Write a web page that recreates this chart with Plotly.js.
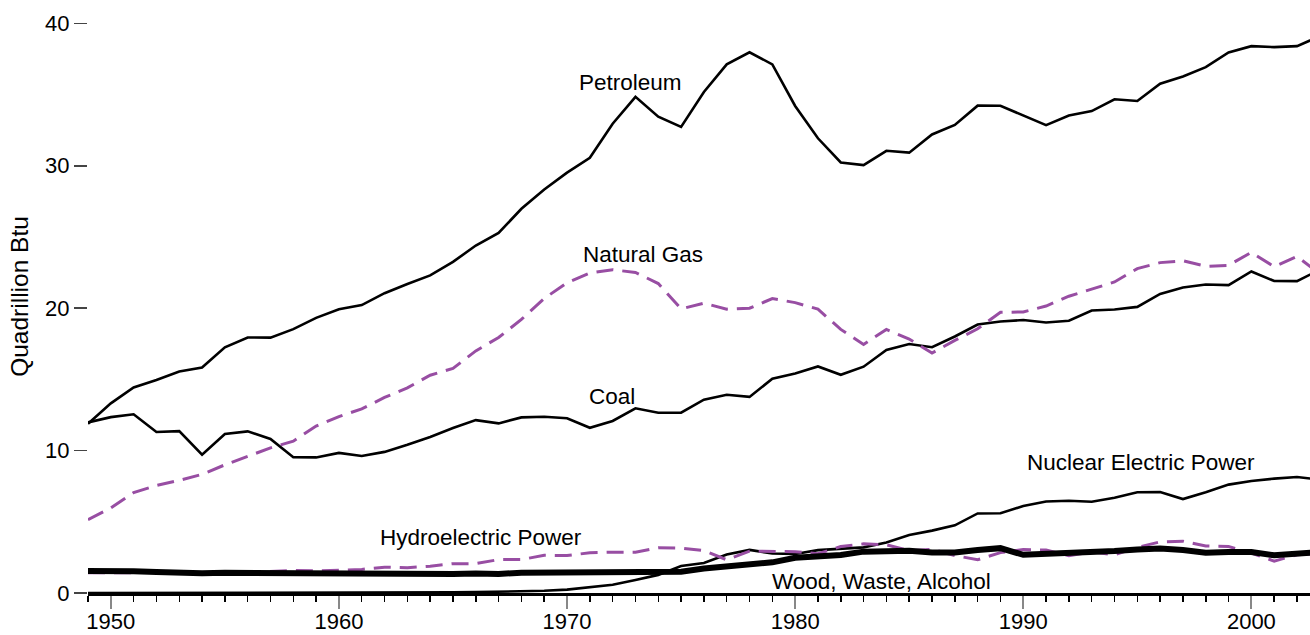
<!DOCTYPE html>
<html>
<head>
<meta charset="utf-8">
<script src="https://cdn.plot.ly/plotly-3.0.1.min.js"></script>
<style>
  html, body { margin: 0; padding: 0; background: #fff; }
  #chart { width: 1310px; height: 635px; }
</style>
</head>
<body>
<div id="chart"></div>
<script>
// Years 1949-2003
const years = [1949,1950,1951,1952,1953,1954,1955,1956,1957,1958,
  1959,1960,1961,1962,1963,1964,1965,1966,1967,1968,
  1969,1970,1971,1972,1973,1974,1975,1976,1977,1978,
  1979,1980,1981,1982,1983,1984,1985,1986,1987,1988,
  1989,1990,1991,1992,1993,1994,1995,1996,1997,1998,
  1999,2000,2001,2002,2003];

// Quadrillion Btu
const petroleum = [11.88,13.32,14.43,14.96,15.56,15.84,17.25,17.94,17.93,18.53,
  19.32,19.92,20.22,21.05,21.70,22.30,23.25,24.40,25.28,26.98,
  28.34,29.52,30.56,32.95,34.84,33.45,32.73,35.18,37.12,37.97,
  37.12,34.20,31.93,30.23,30.05,31.05,30.92,32.20,32.87,34.22,
  34.21,33.55,32.85,33.53,33.84,34.67,34.55,35.76,36.27,36.93,
  37.96,38.40,38.33,38.40,39.10];

const naturalGas = [5.15,5.97,7.05,7.55,7.91,8.33,9.00,9.61,10.19,10.66,
  11.72,12.39,12.93,13.73,14.40,15.29,15.77,17.00,17.94,19.21,
  20.68,21.79,22.47,22.70,22.51,21.73,19.95,20.35,19.93,20.00,
  20.67,20.39,19.93,18.51,17.45,18.51,17.83,16.85,17.74,18.55,
  19.71,19.73,20.15,20.84,21.35,21.84,22.78,23.20,23.33,22.94,
  23.01,23.92,22.91,23.63,22.40];

const coal = [11.98,12.35,12.55,11.31,11.37,9.71,11.17,11.35,10.82,9.53,
  9.52,9.84,9.62,9.91,10.41,10.96,11.58,12.14,11.91,12.33,
  12.38,12.27,11.60,12.08,12.97,12.66,12.66,13.58,13.92,13.77,
  15.04,15.42,15.91,15.32,15.89,17.07,17.48,17.26,18.01,18.85,
  19.07,19.17,18.99,19.12,19.84,19.91,20.09,21.00,21.45,21.66,
  21.62,22.58,21.91,21.90,22.70];

const nuclear = [0,0,0,0,0,0,0,0,0,0.002,
  0.002,0.006,0.02,0.026,0.038,0.04,0.043,0.064,0.088,0.142,
  0.154,0.239,0.413,0.584,0.910,1.272,1.900,2.111,2.702,3.024,
  2.776,2.739,3.008,3.131,3.203,3.553,4.076,4.380,4.754,5.587,
  5.602,6.104,6.422,6.479,6.410,6.694,7.075,7.087,6.597,7.068,
  7.610,7.862,8.033,8.143,7.959];

const hydro = [1.425,1.415,1.424,1.466,1.413,1.360,1.360,1.435,1.516,1.592,
  1.548,1.608,1.656,1.816,1.771,1.886,2.059,2.062,2.347,2.349,
  2.648,2.634,2.824,2.864,2.861,3.177,3.155,2.976,2.333,2.937,
  2.931,2.900,2.758,3.266,3.450,3.386,2.970,3.071,2.635,2.334,
  2.837,3.046,3.016,2.617,2.892,2.683,3.205,3.590,3.640,3.297,
  3.268,2.811,2.242,2.689,2.779];

const wood = [1.549,1.562,1.535,1.474,1.419,1.394,1.424,1.416,1.334,1.323,
  1.353,1.320,1.295,1.300,1.323,1.337,1.335,1.369,1.340,1.419,
  1.440,1.431,1.432,1.503,1.529,1.540,1.499,1.713,1.838,2.038,
  2.152,2.476,2.596,2.664,2.904,2.971,2.972,2.848,2.841,3.020,
  3.150,2.680,2.740,2.860,2.830,2.950,3.060,3.130,3.020,2.830,
  2.880,2.880,2.650,2.790,2.880];

const seriesLabels = ["Petroleum","Natural Gas","Coal","Nuclear Electric Power","Hydroelectric Power","Wood, Waste, Alcohol"];

const FONT = "Liberation Sans, Arial, Helvetica, sans-serif";
const PURPLE = "#984ea3";
const black = {color: "#000", width: 2.6};
const dashed = {color: PURPLE, width: 3, dash: "17px,9px"};

const traces = [
  {x: years, y: nuclear, name: seriesLabels[3], line: black},
  {x: years, y: hydro, name: seriesLabels[4], line: dashed},
  {x: years, y: wood, name: seriesLabels[5], line: {color: "#000", width: 6}},
  {x: years, y: coal, name: seriesLabels[2], line: black},
  {x: years, y: naturalGas, name: seriesLabels[1], line: dashed},
  {x: years, y: petroleum, name: seriesLabels[0], line: black}
].map(t => Object.assign({type: "scatter", mode: "lines", hoverinfo: "skip"}, t));

const labelPos = [
  [1972.76, 35.88], [1973.33, 23.74], [1971.97, 13.78],
  [1995.14, 9.19], [1966.23, 3.93], [1983.77, 0.81]
];

const annotations = seriesLabels.map((s, i) => ({
  text: s, x: labelPos[i][0], y: labelPos[i][1], xref: "x", yref: "y",
  showarrow: false, xanchor: "center", yanchor: "middle",
  font: {family: FONT, size: 22.5, color: "#000"}
}));

const layout = {
  width: 1310, height: 635,
  margin: {l: 88, r: 0, t: 0, b: 42, pad: 0},
  paper_bgcolor: "#fff", plot_bgcolor: "#fff",
  showlegend: false,
  font: {family: FONT, size: 22, color: "#000"},
  xaxis: {
    range: [1949, 2002.57], tick0: 1950, dtick: 10,
    ticks: "outside", ticklen: 13, tickwidth: 2, tickcolor: "#888",
    ticklabelstandoff: -6,
    minor: {tick0: 1949, dtick: 1, ticks: "outside", ticklen: 6, tickwidth: 1.5, tickcolor: "#000", showgrid: false},
    showline: true, linecolor: "#000", linewidth: 2.5,
    showgrid: false, zeroline: false,
    tickfont: {family: FONT, size: 22, color: "#000"}
  },
  yaxis: {
    range: [0, 41.64], tick0: 0, dtick: 10,
    ticks: "outside", ticklen: 13, tickwidth: 1.5, tickcolor: "#444",
    showline: false, showgrid: false, zeroline: false,
    tickfont: {family: FONT, size: 22, color: "#000"},
    title: {text: "Quadrillion Btu", font: {family: FONT, size: 24.5, color: "#000"}, standoff: 9}
  },
  annotations: annotations
};

Plotly.newPlot("chart", traces, layout, {staticPlot: true, displayModeBar: false});
</script>
</body>
</html>
